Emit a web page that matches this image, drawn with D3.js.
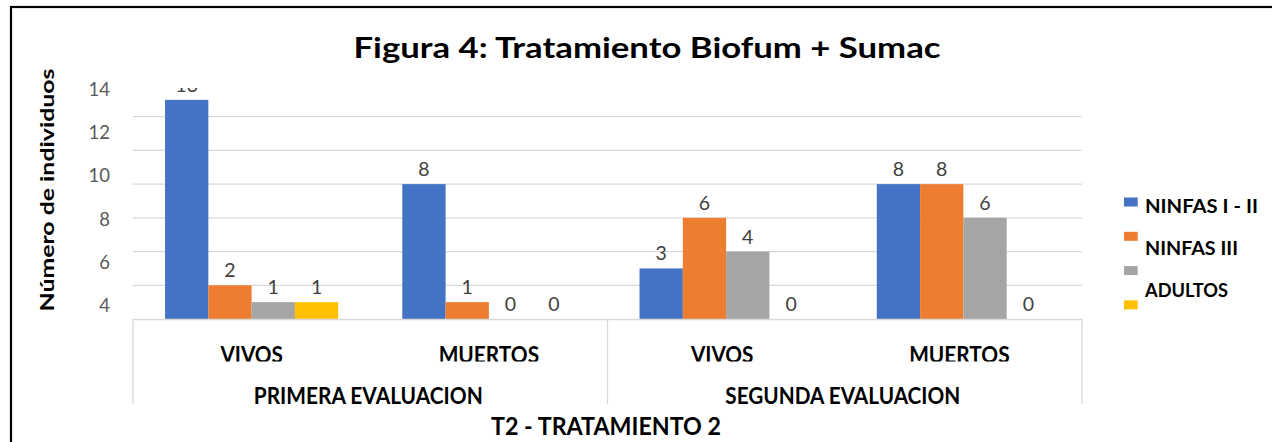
<!DOCTYPE html>
<html>
<head>
<meta charset="utf-8">
<script src="https://cdn.jsdelivr.net/npm/d3@7"></script>
<style>
  html, body { margin: 0; padding: 0; background: #fff; }
  svg { display: block; }
  text { font-family: Lato, "Open Sans", sans-serif; }
</style>
</head>
<body>
<svg id="chart" width="1272" height="442"></svg>
<script>
// ---- Data ----
const title = "Figura 4: Tratamiento Biofum + Sumac";
const categories = ["VIVOS", "MUERTOS", "VIVOS", "MUERTOS"];
const groups = ["PRIMERA EVALUACION", "SEGUNDA EVALUACION"];
const groupOfCategory = [0, 0, 1, 1];
const seriesNames = ["NINFAS I - II", "NINFAS III", "", "ADULTOS"];
const ninfasI_II = [13, 8, 3, 8];
const ninfasIII = [2, 1, 6, 8];
const serie3 = [1, 0, 4, 6];
const adultos = [1, 0, 0, 0];
const seriesValues = [ninfasI_II, ninfasIII, serie3, adultos];
const seriesColors = ["#4472C4", "#ED7D31", "#A5A5A5", "#FFC000"];
const yTickLabels = [4, 6, 8, 10, 12, 14];
const gridValues = [2, 4, 6, 8, 10, 12];
const legendTexts = ["NINFAS I - II", "NINFAS III", "ADULTOS"];
const yTitle = "Número de individuos";
const xTitle = "T2 - TRATAMIENTO 2";

// ---- Layout ----
const svg = d3.select("#chart");
const plotL = 133, plotR = 1082, plotB = 319, plotT = 83;

const x0 = d3.scaleBand().domain(d3.range(categories.length)).range([plotL, plotR]).padding(0);
const x1 = d3.scaleBand().domain(d3.range(seriesValues.length)).range([0, x0.bandwidth()])
  .paddingInner(0).paddingOuter(0.74);
const y = d3.scaleLinear().domain([0, 14]).range([plotB, plotT]);
const yLab = d3.scaleLinear().domain([4, 14]).range([305, 88.5]);

// outer border
svg.append("rect").attr("x", 11).attr("y", 7).attr("width", 1300).attr("height", 500)
  .attr("fill", "none").attr("stroke", "#000").attr("stroke-width", 2.2);

// clip paths
const defs = svg.append("defs");
defs.append("clipPath").attr("id", "plotClip").append("rect")
  .attr("x", 0).attr("y", 88).attr("width", 1272).attr("height", 400);
defs.append("clipPath").attr("id", "row1Clip").append("rect")
  .attr("x", 0).attr("y", 320).attr("width", 1272).attr("height", 41.5);
defs.append("clipPath").attr("id", "row2Clip").append("rect")
  .attr("x", 0).attr("y", 362).attr("width", 1272).attr("height", 42);

// gridlines
svg.append("g").selectAll("line").data(gridValues).join("line")
  .attr("x1", plotL).attr("x2", plotR)
  .attr("y1", d => y(d)).attr("y2", d => y(d))
  .attr("stroke", "#d9d9d9").attr("stroke-width", 1.3);

// y tick labels
const yAxis = d3.axisLeft(yLab).tickValues(yTickLabels).tickSize(0).tickPadding(0);
const yg = svg.append("g").attr("transform", "translate(110,0)").call(yAxis);
yg.select(".domain").remove();
yg.selectAll("text").attr("font-family", "Lato, 'Open Sans', sans-serif")
  .attr("font-size", 18.5).attr("fill", "#595959").attr("dy", "0.36em");

// bars
const barG = svg.append("g");
seriesValues.forEach((vals, si) => {
  barG.selectAll(null).data(vals).join("rect")
    .attr("x", (d, ci) => x0(ci) + x1(si))
    .attr("y", d => y(d))
    .attr("width", x1.bandwidth())
    .attr("height", d => plotB - y(d))
    .attr("fill", seriesColors[si]);
});

// value labels
const labG = svg.append("g").attr("clip-path", "url(#plotClip)");
seriesValues.forEach((vals, si) => {
  labG.selectAll(null).data(vals).join("text")
    .attr("x", (d, ci) => x0(ci) + x1(si) + x1.bandwidth() / 2)
    .attr("y", d => y(d) - 8)
    .attr("text-anchor", "middle")
    .attr("font-size", 19.5)
    .attr("fill", "#404040")
    .text(d => d);
});

// category axis
const axG = svg.append("g");
axG.append("line").attr("x1", plotL).attr("x2", plotR).attr("y1", plotB + 0.5).attr("y2", plotB + 0.5)
  .attr("stroke", "#d9d9d9").attr("stroke-width", 1.3);
[plotL, x0(2), plotR].forEach(xx => {
  axG.append("line").attr("x1", xx).attr("x2", xx).attr("y1", plotB).attr("y2", 404)
    .attr("stroke", "#d9d9d9").attr("stroke-width", 1.3);
});
const catWidths = { "VIVOS": 62.5, "MUERTOS": 100.5 };
axG.append("g").attr("clip-path", "url(#row1Clip)").selectAll("text").data(categories).join("text")
  .attr("x", (d, i) => x0(i) + x0.bandwidth() / 2 - (i >= 2 ? 4 : 0))
  .attr("y", 362.5)
  .attr("text-anchor", "middle")
  .attr("font-size", 22).attr("font-weight", "bold").attr("fill", "#000")
  .attr("textLength", d => catWidths[d]).attr("lengthAdjust", "spacingAndGlyphs")
  .text(d => d);
const groupWidths = [229, 235];
axG.append("g").attr("clip-path", "url(#row2Clip)").selectAll("text").data(groups).join("text")
  .attr("x", (d, gi) => {
    const idx = groupOfCategory.map((g, i) => g === gi ? i : -1).filter(i => i >= 0);
    return (x0(idx[0]) + x0(idx[idx.length - 1]) + x0.bandwidth()) / 2 - 2;
  })
  .attr("y", 404)
  .attr("text-anchor", "middle")
  .attr("font-size", 22).attr("font-weight", "bold").attr("fill", "#000")
  .attr("textLength", (d, i) => groupWidths[i]).attr("lengthAdjust", "spacingAndGlyphs")
  .text(d => d);

// x title
svg.append("text").attr("x", 606).attr("y", 435).attr("text-anchor", "middle")
  .attr("font-size", 24).attr("font-weight", "bold").attr("fill", "#000")
  .attr("textLength", 230).attr("lengthAdjust", "spacingAndGlyphs")
  .text(xTitle);

// y title
svg.append("text").attr("transform", "translate(53.5,190) rotate(-90)")
  .attr("text-anchor", "middle")
  .attr("font-size", 19).attr("font-weight", "bold").attr("fill", "#000")
  .attr("textLength", 243).attr("lengthAdjust", "spacingAndGlyphs")
  .text(yTitle);

// title
svg.append("text").attr("x", 647).attr("y", 57.5).attr("text-anchor", "middle")
  .attr("font-size", 29).attr("font-weight", "bold").attr("fill", "#000")
  .attr("textLength", 587).attr("lengthAdjust", "spacingAndGlyphs")
  .text(title);

// legend
const legG = svg.append("g");
legG.selectAll("rect").data(seriesColors).join("rect")
  .attr("x", 1124).attr("y", (d, i) => 197.5 + i * 34.3)
  .attr("width", 13.7).attr("height", 9)
  .attr("fill", d => d);
const legendWidths = [113, 93, 83];
legG.selectAll("text").data(legendTexts).join("text")
  .attr("x", 1145).attr("y", (d, i) => 213.3 + i * 41.7)
  .attr("font-size", 19.5).attr("font-weight", "bold").attr("fill", "#000")
  .attr("textLength", (d, i) => legendWidths[i]).attr("lengthAdjust", "spacingAndGlyphs")
  .text(d => d);
</script>
</body>
</html>
